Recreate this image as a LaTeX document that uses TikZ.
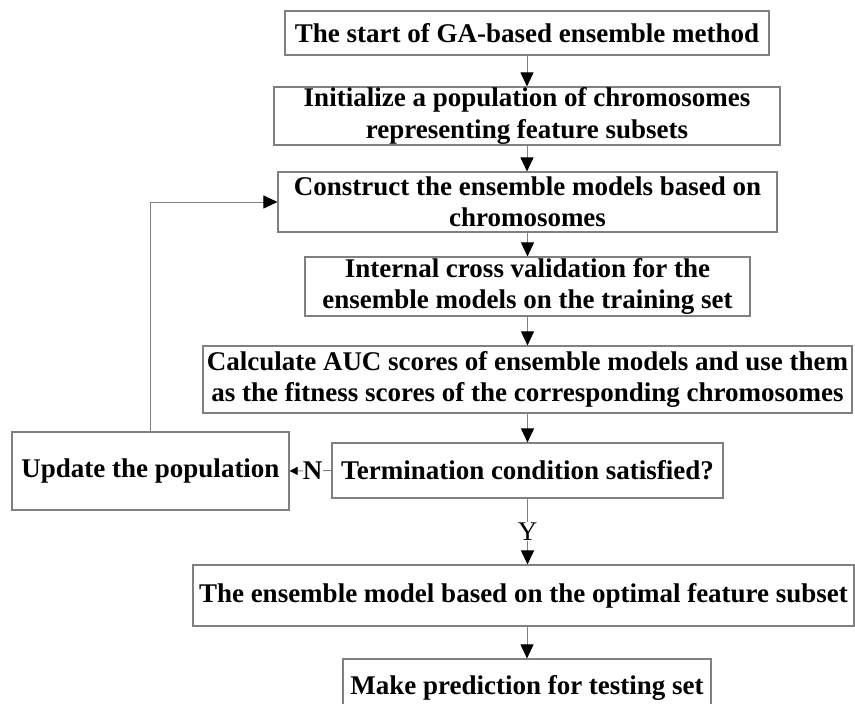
\documentclass[tikz,border=0pt]{standalone}
\usepackage{fontspec}
\setmainfont{Liberation Serif}
\usetikzlibrary{arrows.meta}
\definecolor{linegray}{RGB}{128,128,128}
\tikzset{
  boxnode/.style={draw=linegray, line width=1.1pt, inner sep=0pt, align=center,
    font=\fontsize{27}{31.5}\selectfont\bfseries, text=black},
  arr/.style={draw=linegray, line width=0.9pt,
    -{Triangle[color=black,length=14pt,width=13pt]}},
  smallarr/.style={draw=linegray, line width=0.9pt,
    -{Triangle[color=black,length=8pt,width=8pt]}},
  lbl/.style={fill=white, inner sep=1pt, text=black}
}
\begin{document}
\begin{tikzpicture}[x=1pt,y=-1pt]
\useasboundingbox (0,0) rectangle (855,704);
\clip (0,0) rectangle (855,704);
\node[boxnode, minimum width=484pt, minimum height=44pt] (start) at (527,33)
  {The start of GA-based ensemble method};
\node[boxnode, minimum width=506pt, minimum height=58pt] (init) at (527,116)
  {Initialize a population of chromosomes\\representing feature subsets};
\node[boxnode, minimum width=499pt, minimum height=60pt] (cons) at (527.5,202)
  {Construct the ensemble models based on\\chromosomes};
\node[boxnode, minimum width=445pt, minimum height=59pt] (intl) at (527.5,286.5)
  {Internal cross validation for the\\ensemble models on the training set};
\node[boxnode, minimum width=649pt, minimum height=67pt] (calc) at (527.5,379.5)
  {Calculate AUC scores of ensemble models and use them\\as the fitness scores of the corresponding chromosomes};
\node[boxnode, minimum width=391pt, minimum height=55pt] (term) at (527.5,470.5)
  {Termination condition satisfied?};
\node[boxnode, minimum width=277pt, minimum height=78pt] (upd) at (150.5,471)
  {Update the population};
\node[boxnode, minimum width=661pt, minimum height=61pt] (opt) at (523.5,595.5)
  {The ensemble model based on the optimal feature subset};
\node[boxnode, minimum width=368pt, minimum height=58pt] (pred) at (527,688)
  {Make prediction for testing set};

\draw[arr] (start.south) -- (start.south |- init.north);
\draw[arr] (init.south) -- (init.south |- cons.north);
\draw[arr] (cons.south) -- (cons.south |- intl.north);
\draw[arr] (intl.south) -- (intl.south |- calc.north);
\draw[arr] (calc.south) -- (calc.south |- term.north);
\draw[arr] (term.south) -- node[lbl, font=\fontsize{27}{27}\selectfont, pos=0.5] (ylab) {Y} (term.south |- opt.north);
\draw[arr] (opt.south -| pred.north) -- (pred.north);
\draw[smallarr] (term.west) -- node[lbl, font=\fontsize{27}{27}\selectfont\bfseries, inner sep=0.3pt, pos=0.45] (nlab) {N} (upd.east);
\draw[arr] (upd.north) |- (cons.west);
\end{tikzpicture}
\end{document}
